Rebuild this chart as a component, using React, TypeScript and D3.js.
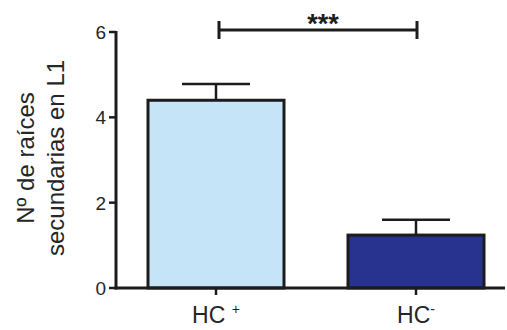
import React, { useEffect, useRef } from 'react';
import * as d3 from 'd3';

const categories = ['HC+', 'HC-'];
const means = [4.4, 1.24];
const errors = [0.38, 0.36];
const barColors = ['#c6e4f8', '#27338f'];
const yTicks = [0, 2, 4, 6];
const significance = '***';

export default function App() {
  const ref = useRef<SVGSVGElement | null>(null);

  useEffect(() => {
    const svg = d3.select(ref.current);
    svg.selectAll('*').remove();

    const width = 507;
    const height = 330;
    const font = 'Liberation Sans, Arial, sans-serif';
    const ink = '#1c1c1c';
    const textInk = '#262626';

    const x = d3.scaleBand<string>()
      .domain(categories)
      .range([116, 516])
      .paddingInner(0.32)
      .paddingOuter(0.16);
    const y = d3.scaleLinear().domain([0, 6]).range([288, 32]);

    svg.attr('width', width).attr('height', height);
    svg.append('rect').attr('width', width).attr('height', height).attr('fill', '#fff');

    // bars
    const g = svg.append('g');
    categories.forEach((c, i) => {
      const cx = x(c)! + x.bandwidth() / 2;
      g.append('rect')
        .attr('x', x(c)!)
        .attr('y', y(means[i]))
        .attr('width', x.bandwidth())
        .attr('height', y(0) - y(means[i]))
        .attr('fill', barColors[i])
        .attr('stroke', ink)
        .attr('stroke-width', 3);
      // error bar
      g.append('line')
        .attr('x1', cx).attr('x2', cx)
        .attr('y1', y(means[i])).attr('y2', y(means[i] + errors[i]))
        .attr('stroke', ink).attr('stroke-width', 2.5);
      g.append('line')
        .attr('x1', cx - 34).attr('x2', cx + 34)
        .attr('y1', y(means[i] + errors[i])).attr('y2', y(means[i] + errors[i]))
        .attr('stroke', ink).attr('stroke-width', 2.5);
    });

    // y axis
    svg.append('line')
      .attr('x1', 116).attr('x2', 116)
      .attr('y1', y(6) - 1).attr('y2', y(0) + 1.5)
      .attr('stroke', ink).attr('stroke-width', 3);
    yTicks.forEach(t => {
      svg.append('line')
        .attr('x1', 109).attr('x2', 116)
        .attr('y1', y(t)).attr('y2', y(t))
        .attr('stroke', ink).attr('stroke-width', 2.5);
      svg.append('text')
        .attr('x', 106)
        .attr('y', y(t))
        .attr('dy', '0.36em')
        .attr('text-anchor', 'end')
        .attr('font-family', font)
        .attr('font-size', 19)
        .attr('fill', textInk)
        .text(t);
    });

    // x axis
    svg.append('line')
      .attr('x1', 114.5).attr('x2', 505)
      .attr('y1', y(0)).attr('y2', y(0))
      .attr('stroke', ink).attr('stroke-width', 3);
    categories.forEach(c => {
      const cx = x(c)! + x.bandwidth() / 2;
      svg.append('line')
        .attr('x1', cx).attr('x2', cx)
        .attr('y1', y(0)).attr('y2', y(0) + 7)
        .attr('stroke', ink).attr('stroke-width', 2.5);
      const t = svg.append('text')
        .attr('x', cx)
        .attr('y', 323)
        .attr('text-anchor', 'middle')
        .attr('font-family', font)
        .attr('font-size', 23)
        .attr('fill', textInk);
      t.append('tspan').text(c === 'HC+' ? 'HC ' : 'HC');
      t.append('tspan')
        .attr('font-size', 14)
        .attr('dy', -9)
        .text(c.slice(2));
    });

    // y label
    const lbl = svg.append('text')
      .attr('transform', 'translate(0,158) rotate(-90)')
      .attr('text-anchor', 'middle')
      .attr('font-family', font)
      .attr('font-size', 24)
      .attr('fill', textInk);
    lbl.append('tspan').attr('x', 0).attr('y', 34).text('Nº de raíces');
    lbl.append('tspan').attr('x', 0).attr('y', 64).text('secundarias en L1');

    // significance bracket
    const x1 = x(categories[0])! + x.bandwidth() / 2 + 3;
    const x2 = x(categories[1])! + x.bandwidth() / 2 + 1;
    const by = 30;
    svg.append('line')
      .attr('x1', x1).attr('x2', x2).attr('y1', by).attr('y2', by)
      .attr('stroke', ink).attr('stroke-width', 3);
    [x1, x2].forEach(bx => {
      svg.append('line')
        .attr('x1', bx).attr('x2', bx).attr('y1', by - 9).attr('y2', by + 9)
        .attr('stroke', ink).attr('stroke-width', 3);
    });
    svg.append('text')
      .attr('x', (x1 + x2) / 2 + 5)
      .attr('y', 33)
      .attr('text-anchor', 'middle')
      .attr('font-family', font)
      .attr('font-size', 27)
      .attr('font-weight', 'bold')
      .attr('fill', ink)
      .text(significance);
  }, []);

  return (
    <svg ref={ref} style={{ position: 'absolute', left: 0, top: 0 }} />
  );
}
